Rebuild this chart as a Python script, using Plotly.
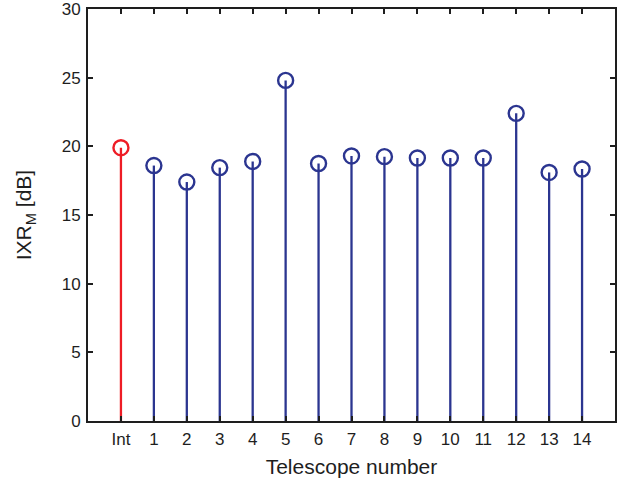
import plotly.graph_objects as go

categories = ["Int", "1", "2", "3", "4", "5", "6", "7", "8", "9", "10", "11", "12", "13", "14"]
positions = list(range(1, 16))
ixr_values = [19.9, 18.6, 17.4, 18.45, 18.9, 24.8, 18.75, 19.3, 19.25, 19.15, 19.15, 19.15, 22.4, 18.1, 18.35]
y_ticks = [0, 5, 10, 15, 20, 25, 30]

RED = "#ee1c25"
BLUE = "#2b3590"


def stem_xy(xs, ys):
    sx, sy = [], []
    for x, y in zip(xs, ys):
        sx += [x, x, None]
        sy += [0, y, None]
    return sx, sy


fig = go.Figure()

groups = [
    (positions[:1], ixr_values[:1], RED),
    (positions[1:], ixr_values[1:], BLUE),
]
for xs, ys, col in groups:
    sx, sy = stem_xy(xs, ys)
    fig.add_trace(go.Scatter(x=sx, y=sy, mode="lines",
                             line=dict(color=col, width=2.3),
                             hoverinfo="skip", showlegend=False))
    fig.add_trace(go.Scatter(x=xs, y=ys, mode="markers",
                             marker=dict(symbol="circle-open", size=15, color=col,
                                         line=dict(width=2.4, color=col)),
                             showlegend=False))

tick_font = dict(family="Liberation Sans, Arial, sans-serif", size=17, color="#1e1e1e")
title_font = dict(family="Liberation Sans, Arial, sans-serif", size=21, color="#1e1e1e")

fig.update_layout(
    width=630, height=482,
    margin=dict(l=88, r=15, t=9, b=61),
    paper_bgcolor="white", plot_bgcolor="white",
    font=tick_font,
    xaxis=dict(range=[0, 16], tickvals=positions, ticktext=categories,
               automargin=False, tickfont=tick_font, ticklabeloverflow="allow",
               showgrid=False, zeroline=False, showline=True, linecolor="#1e1e1e",
               linewidth=2, mirror="allticks", ticks="inside", ticklen=5,
               tickcolor="#1e1e1e", tickwidth=1.5, ticklabelstandoff=2,
               title=dict(text="Telescope number", standoff=11, font=title_font)),
    yaxis=dict(range=[0, 30], tickvals=y_ticks,
               automargin=False, tickfont=tick_font, ticklabeloverflow="allow",
               showgrid=False, zeroline=False, showline=True, linecolor="#1e1e1e",
               linewidth=2, mirror="allticks", ticks="inside", ticklen=5,
               tickcolor="#1e1e1e", tickwidth=1.5, ticklabelstandoff=2,
               title=dict(text="IXR<sub>M</sub> [dB]", standoff=24, font=title_font)),
)

fig.write_html("out.html", config={"displayModeBar": False},
               post_script="document.body.style.margin='0';")
